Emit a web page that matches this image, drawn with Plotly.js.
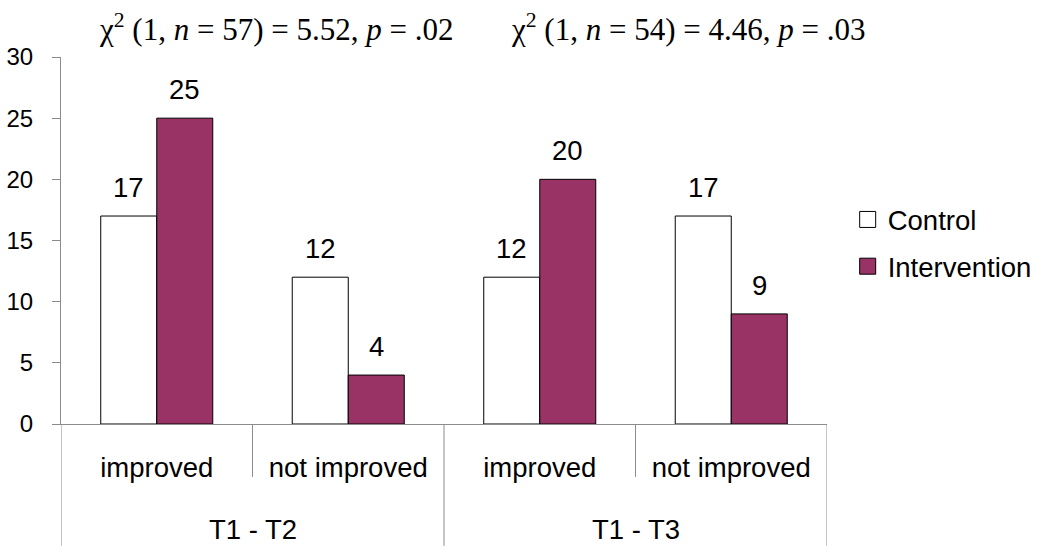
<!DOCTYPE html>
<html>
<head>
<meta charset="utf-8">
<script src="https://cdn.plot.ly/plotly-3.0.1.min.js"></script>
<style>html,body{margin:0;padding:0;background:#fff;}#chart{width:1050px;height:553px;}</style>
</head>
<body>
<div id="chart"></div>
<script>
// ---- data ----
const groups = ['T1 - T2', 'T1 - T2', 'T1 - T3', 'T1 - T3'];
const subcats = ['improved', 'not improved', 'improved', 'not improved'];
const control = [17, 12, 12, 17];
const intervention = [25, 4, 20, 9];
const seriesNames = ['Control', 'Intervention'];
const testLabels = [
  'χ<sup>2</sup> (1, <i>n</i> = 57) = 5.52, <i>p</i> = .02',
  'χ<sup>2</sup> (1, <i>n</i> = 54) = 4.46, <i>p</i> = .03'
];

// ---- style ----
const GRAY = '#8c8c8c';
const PLUM = '#993366';
const FONT = 'Liberation Sans, Arial, sans-serif';
const SERIF = 'Liberation Serif, Times New Roman, serif';
const TXT = 27.5;
const bargap = 0.415;
const barW = (1 - bargap) / 2;
const idx = subcats.map((_, i) => i);

const traces = [
  {
    type: 'bar', name: seriesNames[0], x: idx, y: control,
    marker: {color: '#ffffff', line: {color: '#000000', width: 1}},
    showlegend: false, hoverinfo: 'skip'
  },
  {
    type: 'bar', name: seriesNames[1], x: idx, y: intervention,
    marker: {color: PLUM, line: {color: '#000000', width: 1}},
    showlegend: false, hoverinfo: 'skip'
  },
  // legend entries (larger square keys)
  {
    type: 'scatter', mode: 'markers', name: seriesNames[0], x: [null], y: [null],
    marker: {symbol: 'square', size: 17, color: '#ffffff', line: {color: '#000', width: 1}},
    legendgroup: 'a', hoverinfo: 'skip'
  },
  {
    type: 'scatter', mode: 'markers', name: seriesNames[1], x: [null], y: [null],
    marker: {symbol: 'square', size: 17, color: PLUM, line: {color: '#000', width: 1}},
    legendgroup: 'b', hoverinfo: 'skip'
  }
];

const annotations = [];
[control, intervention].forEach((vals, s) => {
  vals.forEach((v, i) => {
    annotations.push({
      x: idx[i] + (s === 0 ? -1 : 1) * barW / 2, y: v, xref: 'x', yref: 'y',
      text: String(v), showarrow: false, xanchor: 'center', yanchor: 'bottom', yshift: 11,
      font: {family: FONT, size: TXT, color: '#000'}
    });
  });
});
const testX = [0.281, 0.818];
testLabels.forEach((t, k) => {
  annotations.push({
    x: testX[k], y: 1, xref: 'paper', yref: 'paper', text: t, showarrow: false,
    xanchor: 'center', yanchor: 'middle', yshift: 30,
    font: {family: SERIF, size: 31, color: '#000'}
  });
});

// group labels and separators
const shapes = [];
const uniqueGroups = [...new Set(groups)];
uniqueGroups.forEach(g => {
  const members = idx.filter(i => groups[i] === g);
  const mid = members.reduce((a, b) => a + b, 0) / members.length;
  annotations.push({
    x: mid, y: -0.287, xref: 'x', yref: 'paper', text: g, showarrow: false,
    xanchor: 'center', yanchor: 'middle', font: {family: FONT, size: TXT, color: '#000'}
  });
});
for (let i = 0; i <= subcats.length; i++) {
  const edge = (i === 0 || i === subcats.length || groups[i] !== groups[i - 1]);
  shapes.push({
    type: 'line', xref: 'x', yref: 'paper', x0: i - 0.5, x1: i - 0.5,
    y0: 0, y1: edge ? -0.332 : -0.144, line: {color: GRAY, width: 1}
  });
}

const layout = {
  width: 1050, height: 553,
  margin: {l: 61, r: 223, t: 57, b: 129},
  paper_bgcolor: '#fff', plot_bgcolor: '#fff',
  barmode: 'group', bargap: bargap, bargroupgap: 0,
  font: {family: FONT, color: '#000', size: TXT},
  showlegend: true,
  legend: {
    x: 1.027, y: 0.493, xanchor: 'left', yanchor: 'middle',
    font: {family: FONT, size: TXT, color: '#000'},
    traceorder: 'grouped', tracegroupgap: 8, bgcolor: 'rgba(0,0,0,0)',
    itemsizing: 'trace'
  },
  xaxis: {
    type: 'linear', range: [-0.5, subcats.length - 0.5],
    tickvals: idx, ticktext: subcats,
    showline: true, linecolor: GRAY, linewidth: 1,
    showgrid: false, zeroline: false,
    ticks: 'outside', ticklen: 19, tickcolor: 'rgba(0,0,0,0)',
    tickfont: {family: FONT, size: TXT, color: '#000'}
  },
  yaxis: {
    range: [0, 30], dtick: 5, tick0: 0,
    showline: true, linecolor: GRAY, linewidth: 1,
    ticks: 'outside', ticklen: 8, tickcolor: GRAY,
    showgrid: false, zeroline: false,
    ticklabelstandoff: 14,
    tickfont: {family: FONT, size: 24, color: '#000'}
  },
  annotations: annotations,
  shapes: shapes
};

Plotly.newPlot('chart', traces, layout, {displayModeBar: false, staticPlot: true});
</script>
</body>
</html>
